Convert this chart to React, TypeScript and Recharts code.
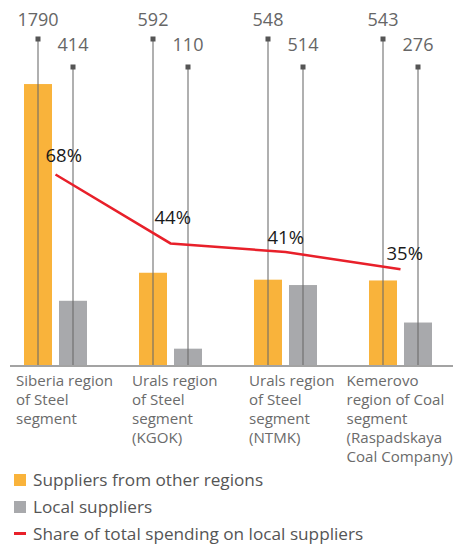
import React from 'react';
import { ComposedChart, Bar, Line, XAxis, YAxis, Legend, LabelList } from 'recharts';

const categories = [
  'Siberia region\nof Steel\nsegment',
  'Urals region\nof Steel\nsegment\n(KGOK)',
  'Urals region\nof Steel\nsegment\n(NTMK)',
  'Kemerovo\nregion of Coal\nsegment\n(Raspadskaya\nCoal Company)',
];
const otherRegions = [1790, 592, 548, 543];
const localSuppliers = [414, 110, 514, 276];
const localShare = [68, 44, 41, 35];
const seriesNames = [
  'Suppliers from other regions',
  'Local suppliers',
  'Share of total spending on local suppliers',
];

const data = categories.map((c, i) => ({
  category: c,
  other: otherRegions[i],
  local: localSuppliers[i],
  share: localShare[i],
}));

const ORANGE = '#F9B33B';
const GREY = '#A8A9AC';
const RED = '#E8202A';
const FONT = '"Open Sans", sans-serif';

const tickOffsets = [-39.5, -38.5, -36.5, -54];
const pctOffsets = [
  [-10, -13],
  [-16, -19],
  [-18, -8],
  [-14, -9],
];

const makeBarShape = (key: string, fill: string, markerOffset: number, labelOffset: number) => (props: any) => {
  const { x, y, width, height, payload, background } = props;
  const top = (background && typeof background.y === 'number' ? background.y : 39) + markerOffset;
  const cx = x + width / 2;
  const base = y + height;
  return (
    <g>
      <rect x={x} y={y} width={width} height={height} fill={fill} />
      <line x1={cx} x2={cx} y1={top} y2={base} stroke="#6a6a6a" strokeOpacity={0.7} strokeWidth={1.5} />
      <rect x={cx - 2.5} y={top - 2.5} width={5} height={5} fill="#555555" />
      <text x={cx} y={top - labelOffset} textAnchor="middle" fontFamily={FONT} fontSize={18} fill="#666666">
        {payload[key]}
      </text>
    </g>
  );
};

const CategoryTick = (props: any) => {
  const { x, y, payload, index } = props;
  const lines = String(payload.value).split('\n');
  const dx = tickOffsets[index] ?? -39;
  return (
    <g>
      {lines.map((l, i) => (
        <text
          key={i}
          x={x + dx}
          y={y + 20 + i * 19}
          fontFamily={FONT}
          fontSize={15.1}
          fill="#6b6b6b"
          textAnchor="start"
        >
          {l}
        </text>
      ))}
    </g>
  );
};

const PctLabel = (props: any) => {
  const { x, y, value, index } = props;
  const [dx, dy] = pctOffsets[index] ?? [-14, -10];
  return (
    <text x={x + dx} y={y + dy} fontFamily={FONT} fontSize={18.5} fill="#1a1a1a" textAnchor="start">
      {value}%
    </text>
  );
};

const LegendContent = () => (
  <div style={{ fontFamily: FONT, fontSize: 17.2, color: '#555555' }}>
    {seriesNames.map((n, i) => (
      <div key={n} style={{ display: 'flex', alignItems: 'center', height: 27, paddingLeft: 14 }}>
        {i < 2 ? (
          <span style={{ display: 'inline-block', width: 12, height: 12, background: i === 0 ? ORANGE : GREY }} />
        ) : (
          <span style={{ display: 'inline-block', width: 12, height: 3, background: RED }} />
        )}
        <span style={{ marginLeft: 7, whiteSpace: 'nowrap' }}>{n}</span>
      </div>
    ))}
  </div>
);

export default function App() {
  return (
    <div style={{ position: 'absolute', left: 0, top: 0, width: 453, height: 545, background: '#fff' }}>
      <ComposedChart
        width={453}
        height={545}
        data={data}
        margin={{ top: 39, right: 0, bottom: 0, left: 10 }}
        barGap={7}
        barSize={28}
      >
        <XAxis
          dataKey="category"
          interval={0}
          height={179}
          padding={{ left: -12, right: -5 }}
          axisLine={{ stroke: '#a3a3a3', strokeWidth: 2 }}
          tickLine={false}
          tickSize={0}
          tickMargin={0}
          tick={<CategoryTick />}
        />
        <YAxis yAxisId="v" hide domain={[0, 2076]} />
        <YAxis yAxisId="p" hide orientation="right" domain={[1.3, 115.2]} allowDataOverflow />
        <Bar
          yAxisId="v"
          dataKey="other"
          name={seriesNames[0]}
          fill={ORANGE}
          isAnimationActive={false}
          shape={makeBarShape('other', ORANGE, 0, 13)}
        />
        <Bar
          yAxisId="v"
          dataKey="local"
          name={seriesNames[1]}
          fill={GREY}
          isAnimationActive={false}
          shape={makeBarShape('local', GREY, 28, 16.5)}
        />
        <Line
          yAxisId="p"
          dataKey="share"
          name={seriesNames[2]}
          stroke={RED}
          strokeWidth={2.5}
          dot={false}
          activeDot={false}
          isAnimationActive={false}
        >
          <LabelList dataKey="share" content={<PctLabel />} />
        </Line>
        <Legend
          layout="horizontal"
          verticalAlign="middle"
          align="center"
          content={<LegendContent />}
          wrapperStyle={{ top: 466, left: 0, width: 453 }}
        />
      </ComposedChart>
    </div>
  );
}
